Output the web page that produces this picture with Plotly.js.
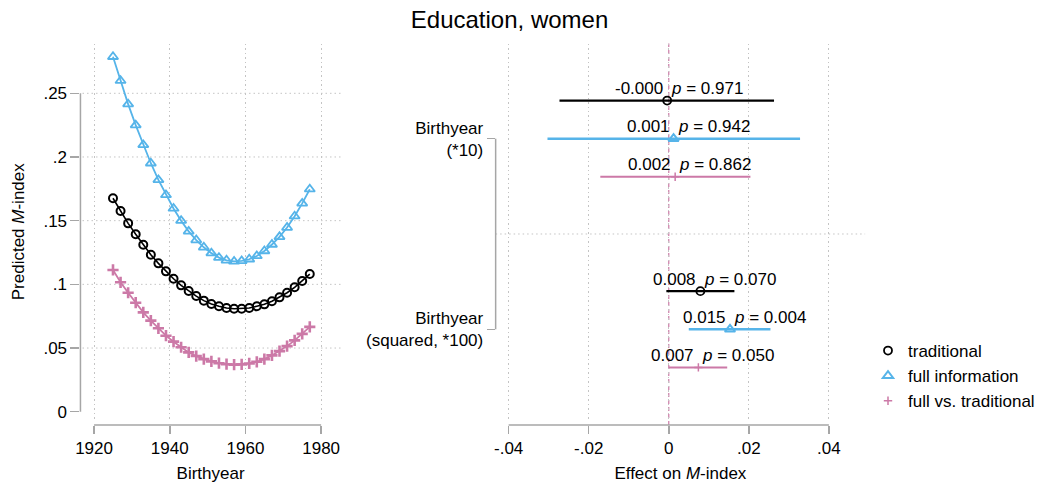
<!DOCTYPE html>
<html>
<head>
<meta charset="utf-8">
<script src="https://cdn.plot.ly/plotly-3.0.1.min.js"></script>
<style>
  html, body { margin: 0; padding: 0; background: #fff; }
  #chart { width: 1040px; height: 483px; }
</style>
</head>
<body>
<div id="chart"></div>
<script>
// ---- Predicted M-index by birth year ----
const birthyears = [1925, 1927, 1929, 1931, 1933, 1935, 1937, 1939, 1941, 1943, 1945, 1947, 1949,
                    1951, 1953, 1955, 1957, 1959, 1961, 1963, 1965, 1967, 1969, 1971, 1973, 1975, 1977];
const predTraditional = [0.1676, 0.1576, 0.1479, 0.1393, 0.1311, 0.1233, 0.1165, 0.1102, 0.1044, 0.0992,
                         0.0948, 0.0908, 0.0872, 0.0846, 0.0828, 0.0814, 0.0809, 0.0809, 0.0814, 0.0828,
                         0.0843, 0.0867, 0.0898, 0.0934, 0.0977, 0.1026, 0.1081];
const predFull = [0.2787, 0.2599, 0.2415, 0.2250, 0.2095, 0.1951, 0.1820, 0.1702, 0.1596, 0.1500,
                  0.1416, 0.1348, 0.1291, 0.1245, 0.1210, 0.1189, 0.1180, 0.1184, 0.1197, 0.1223,
                  0.1262, 0.1313, 0.1373, 0.1446, 0.1535, 0.1636, 0.1747];
const predDiff = [0.1113, 0.1016, 0.0934, 0.0856, 0.0780, 0.0715, 0.0655, 0.0597, 0.0550, 0.0506,
                  0.0466, 0.0437, 0.0413, 0.0395, 0.0381, 0.0373, 0.0370, 0.0372, 0.0379, 0.0392,
                  0.0413, 0.0442, 0.0476, 0.0515, 0.0560, 0.0611, 0.0666];

// ---- Coefficients (effect on M-index) ----
const terms = ['Birthyear<br>(*10)', 'Birthyear<br>(squared, *100)'];
const estTraditional = [-0.0004, 0.0079];
const loTraditional  = [-0.0273, -0.0006];
const hiTraditional  = [0.0263, 0.0164];
const pTraditional   = [0.971, 0.070];
const estFull = [0.0012, 0.0153];
const loFull  = [-0.0303, 0.0050];
const hiFull  = [0.0328, 0.0254];
const pFull   = [0.942, 0.004];
const estDiff = [0.0016, 0.0074];
const loDiff  = [-0.0171, 0.0000];
const hiDiff  = [0.0204, 0.0146];
const pDiff   = [0.862, 0.050];

const seriesNames = ['traditional', 'full information', 'full vs. traditional'];
const leftTicks = [0, 0.05, 0.1, 0.15, 0.2, 0.25];
const leftTickText = ['0', '.05', '.1', '.15', '.2', '.25'];
const yearTicks = [1920, 1940, 1960, 1980];
const effTicks = [-0.04, -0.02, 0, 0.02, 0.04];
const effTickText = ['-.04', '-.02', '0', '.02', '.04'];

// ---- styling ----
const W = 1040, H = 483;
const FONT = 'Liberation Sans, Arial, Helvetica, sans-serif';
const BLACK = '#000000', BLUE = '#56B4E9', PINK = '#CC79A7';
const GRID = '#c4c4c4', AXIS = '#a6a6a6';
const GRIDDASH = '1.5px,3px';

const px = v => v / W;             // horizontal pixel -> paper
const py = v => 1 - v / H;         // vertical pixel -> paper

const leftDomX = [px(81), px(343)];
const rightDomX = [px(499), px(871)];
const domY = [py(420), py(43.5)];
const axisLineY = py(425);

const leftRangeX = [1916.4, 1985.17];
const leftRangeY = [-0.0065, 0.2891];
const rightRangeX = [-0.04325, 0.04906];
const rightRangeY = [2.476, 0.5005];

function toPaper(v, dom, rng) {
  return dom[0] + (v - rng[0]) / (rng[1] - rng[0]) * (dom[1] - dom[0]);
}

const rowOffset = [-0.2, 0, 0.2];
const groupPos = terms.map((t, i) => i + 1);

const traces = [];

// left panel: fitted curves
[[predTraditional, BLACK, 'circle-open', 8, 2, 1.6],
 [predFull, BLUE, 'triangle-up-open', 9, 1.8, 1.8],
 [predDiff, PINK, 'cross-thin-open', 8, 2.6, 1.8]].forEach(([vals, col, sym, sz, mlw, lw], i) => {
  traces.push({
    type: 'scatter', mode: 'lines+markers', x: birthyears, y: vals,
    xaxis: 'x', yaxis: 'y', showlegend: false, hoverinfo: 'skip',
    line: { color: col, width: lw },
    marker: { symbol: sym, size: sz, color: col, line: { color: col, width: mlw } }
  });
});

// right panel: point estimates with confidence intervals
const coefSets = [
  [estTraditional, loTraditional, hiTraditional, pTraditional, BLACK, 'circle-open', 8, 1.8, 2.4],
  [estFull, loFull, hiFull, pFull, BLUE, 'triangle-up-open', 9, 2, 2.4],
  [estDiff, loDiff, hiDiff, pDiff, PINK, 'cross-thin-open', 6, 1.5, 2]
];
const annotations = [];
coefSets.forEach(([est, lo, hi, p, col, sym, sz, mlw, ew], s) => {
  const ys = groupPos.map(g => g + rowOffset[s]);
  traces.push({
    type: 'scatter', mode: 'markers', name: seriesNames[s],
    x: est, y: ys, xaxis: 'x2', yaxis: 'y2', hoverinfo: 'skip',
    marker: { symbol: sym, size: sz, color: col, line: { color: col, width: mlw } },
    error_x: {
      type: 'data', symmetric: false,
      array: est.map((e, i) => hi[i] - e),
      arrayminus: est.map((e, i) => e - lo[i]),
      color: col, thickness: ew, width: 0
    }
  });
  est.forEach((e, i) => {
    annotations.push({
      xref: 'x2', yref: 'y2', x: e, y: ys[i], text: e.toFixed(3),
      showarrow: false, xanchor: 'right', yanchor: 'middle', xshift: -2, yshift: 12,
      font: { family: FONT, size: 17, color: '#000' }
    });
    annotations.push({
      xref: 'x2', yref: 'y2', x: e, y: ys[i], text: '<i>p</i> = ' + p[i].toFixed(3),
      showarrow: false, xanchor: 'left', yanchor: 'middle', xshift: 2, yshift: 12,
      font: { family: FONT, size: 17, color: '#000' }
    });
  });
});

const shapes = [];
// left panel horizontal grid (none at zero)
leftTicks.filter(v => v > 0).forEach(v => {
  shapes.push({ type: 'line', layer: 'between', xref: 'paper', yref: 'y',
    x0: leftDomX[0] + 0.002, x1: leftDomX[1], y0: v, y1: v,
    line: { color: GRID, width: 1, dash: GRIDDASH } });
});
// axis lines spanning the labelled tick range
shapes.push({ type: 'line', xref: 'paper', yref: 'paper',
  x0: toPaper(yearTicks[0], leftDomX, leftRangeX), x1: toPaper(yearTicks[yearTicks.length - 1], leftDomX, leftRangeX),
  y0: axisLineY, y1: axisLineY, line: { color: AXIS, width: 1.5 } });
shapes.push({ type: 'line', xref: 'paper', yref: 'paper',
  x0: leftDomX[0], x1: leftDomX[0],
  y0: toPaper(leftTicks[0], domY, leftRangeY), y1: toPaper(leftTicks[leftTicks.length - 1], domY, leftRangeY),
  line: { color: AXIS, width: 1.5 } });
shapes.push({ type: 'line', xref: 'paper', yref: 'paper',
  x0: toPaper(effTicks[0], rightDomX, rightRangeX), x1: toPaper(effTicks[effTicks.length - 1], rightDomX, rightRangeX),
  y0: axisLineY, y1: axisLineY, line: { color: AXIS, width: 1.5 } });
shapes.push({ type: 'line', xref: 'paper', yref: 'paper',
  x0: rightDomX[0], x1: rightDomX[0],
  y0: toPaper(groupPos[0], domY, rightRangeY), y1: toPaper(groupPos[groupPos.length - 1], domY, rightRangeY),
  line: { color: AXIS, width: 1.5 } });
// separator between coefficient groups
shapes.push({ type: 'line', layer: 'between', xref: 'paper', yref: 'y2',
  x0: rightDomX[0], x1: rightDomX[1], y0: 1.5, y1: 1.5,
  line: { color: GRID, width: 1, dash: GRIDDASH } });
// reference line at zero effect
shapes.push({ type: 'line', layer: 'between', xref: 'x2', yref: 'paper',
  x0: 0, x1: 0, y0: axisLineY, y1: domY[1],
  line: { color: PINK, width: 1.2, dash: '4px,3px' } });

const tickFont = { family: FONT, size: 17, color: '#000' };
const titleFont = { family: FONT, size: 17, color: '#000' };

const layout = {
  width: W, height: H,
  margin: { l: 0, r: 0, t: 0, b: 0 },
  paper_bgcolor: '#fff', plot_bgcolor: '#fff',
  font: { family: FONT, color: '#000' },
  title: { text: 'Education, women', font: { family: FONT, size: 24, color: '#000' },
           x: px(513), xanchor: 'center', xref: 'paper', y: py(20), yref: 'paper', yanchor: 'middle' },
  xaxis: {
    domain: leftDomX, range: leftRangeX, anchor: 'free', position: axisLineY,
    tickvals: yearTicks, ticks: 'outside', ticklen: 8, tickwidth: 1.5, tickcolor: AXIS,
    showline: false, zeroline: false, showgrid: true, gridcolor: GRID, griddash: GRIDDASH, gridwidth: 1,
    tickfont: tickFont, title: { text: 'Birthyear', font: titleFont, standoff: 10 }
  },
  yaxis: {
    domain: domY, range: leftRangeY, anchor: 'x',
    tickvals: leftTicks, ticktext: leftTickText, ticks: 'outside', ticklen: 9, tickwidth: 1.5, tickcolor: AXIS,
    showline: false, zeroline: false, showgrid: false,
    tickfont: tickFont, title: { text: 'Predicted <i>M</i>-index', font: titleFont, standoff: 14 }
  },
  xaxis2: {
    domain: rightDomX, range: rightRangeX, anchor: 'free', position: axisLineY,
    tickvals: effTicks, ticktext: effTickText, ticks: 'outside', ticklen: 8, tickwidth: 1.5, tickcolor: AXIS,
    showline: false, zeroline: false, showgrid: true, gridcolor: GRID, griddash: GRIDDASH, gridwidth: 1,
    tickfont: tickFont, title: { text: 'Effect on <i>M</i>-index', font: titleFont, standoff: 10 }
  },
  yaxis2: {
    domain: domY, range: rightRangeY, anchor: 'x2',
    tickvals: groupPos, ticktext: terms, ticks: 'outside', ticklen: 8, tickwidth: 1.5, tickcolor: AXIS,
    showline: false, zeroline: false, showgrid: false, tickfont: tickFont
  },
  legend: {
    x: px(874), y: py(333), xanchor: 'left', yanchor: 'top',
    font: { family: FONT, size: 17, color: '#000' }, bgcolor: 'rgba(0,0,0,0)',
    itemwidth: 30, tracegroupgap: 0
  },
  showlegend: true,
  shapes: shapes,
  annotations: annotations
};

Plotly.newPlot('chart', traces, layout, { displayModeBar: false, staticPlot: true });
</script>
</body>
</html>
